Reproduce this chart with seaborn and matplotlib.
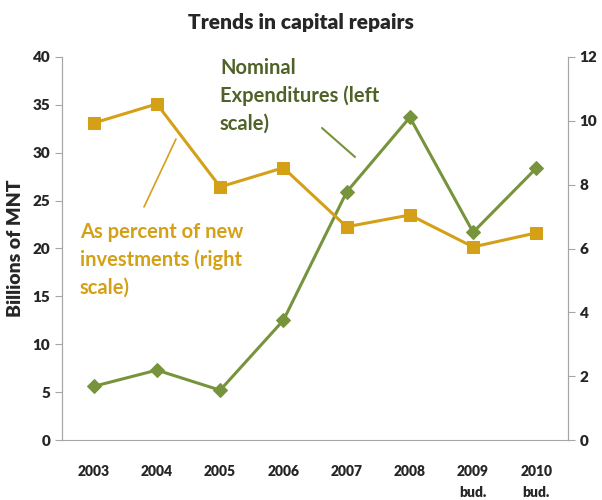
import numpy as np
import pandas as pd
import matplotlib
matplotlib.use("Agg")
import matplotlib.pyplot as plt
import seaborn as sns

years = ["2003", "2004", "2005", "2006", "2007", "2008", "2009\nbud.", "2010\nbud."]
nominal = [5.6, 7.3, 5.2, 12.5, 25.9, 33.7, 21.7, 28.4]          # billions MNT, left
pct_new_inv = [9.93, 10.53, 7.93, 8.53, 6.68, 7.05, 6.05, 6.49]   # percent, right

green = "#77933C"
green_txt = "#4F6228"
orange = "#D4A017"
axis_gray = "#A6A6A6"

sns.set_style("white")
plt.rcParams["font.family"] = ["Lato", "DejaVu Sans"]

df = pd.DataFrame({"pos": np.arange(len(years)), "nominal": nominal, "pct": pct_new_inv})

fig = plt.figure(figsize=(6.02, 5.0), dpi=100)
ax = fig.add_axes([0.103, 0.12, 0.8405, 0.766])
ax2 = ax.twinx()

sns.lineplot(data=df, x="pos", y="nominal", ax=ax, color=green, lw=2.2,
             marker="D", markersize=7, markeredgecolor=green)
sns.lineplot(data=df, x="pos", y="pct", ax=ax2, color=orange, lw=2.2,
             marker="s", markersize=8.5, markeredgecolor=orange)

ax.set_xlim(-0.5, len(years) - 0.5)
ax.set_ylim(0, 40)
ax2.set_ylim(0, 12)
ax.set_yticks(range(0, 41, 5))
ax2.set_yticks(range(0, 13, 2))
ax.set_xticks(df["pos"])
ax.set_xticklabels(years, fontweight="heavy", fontsize=10, linespacing=1.7, va="top")
ax.set_xticks(np.arange(-0.5, len(years), 1), minor=True)
ax.tick_params(axis="x", which="major", length=0, pad=18)
ax.tick_params(axis="x", which="minor", length=5, color=axis_gray, direction="out")
ax.tick_params(axis="y", length=5, color=axis_gray, direction="out", labelsize=11)
ax2.tick_params(axis="y", length=5, color=axis_gray, direction="out", labelsize=11)
for lab in ax.get_yticklabels() + ax2.get_yticklabels():
    lab.set_fontweight("heavy")

ax.set_xlabel("")
ax.set_ylabel("Billions of MNT", fontsize=14, fontweight="heavy", labelpad=6)
ax2.set_ylabel("")

for a in (ax, ax2):
    a.spines["top"].set_visible(False)
    for side in ("left", "right", "bottom"):
        a.spines[side].set_color(axis_gray)
ax2.spines["bottom"].set_visible(False)

fig.text(0.5, 0.955, "Trends in capital repairs", ha="center", va="center",
         fontsize=15, fontweight="heavy")

# annotations
fig.text(220 / 602, 1 - 58 / 500, "Nominal\nExpenditures (left\nscale)", ha="left", va="top",
         fontsize=14.5, fontweight="bold", color=green_txt, linespacing=1.45)
fig.text(80 / 602, 1 - 222 / 500, "As percent of new\ninvestments (right\nscale)", ha="left", va="top",
         fontsize=14.5, fontweight="bold", color=orange, linespacing=1.45)
fig.add_artist(plt.Line2D([322 / 602, 355 / 602], [1 - 128 / 500, 1 - 157 / 500],
                          color=green, lw=1.5))
fig.add_artist(plt.Line2D([176 / 602, 144 / 602], [1 - 139 / 500, 1 - 207 / 500],
                          color=orange, lw=1.2))

fig.savefig("out.png", dpi=100)
